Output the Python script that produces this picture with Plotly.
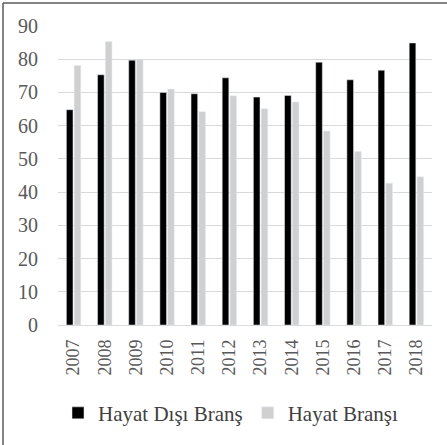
import plotly.graph_objects as go

years = ["2007", "2008", "2009", "2010", "2011", "2012", "2013", "2014", "2015", "2016", "2017", "2018"]
hayat_disi = [64.8, 75.3, 79.7, 70.0, 69.6, 74.4, 68.6, 69.1, 79.1, 73.8, 76.7, 84.9]
hayat = [78.1, 85.3, 80.0, 71.0, 64.2, 69.0, 65.1, 67.1, 58.4, 52.2, 42.7, 44.6]
y_ticks = [0, 10, 20, 30, 40, 50, 60, 70, 80, 90]

SERIF = "Liberation Serif"

fig = go.Figure()
fig.add_trace(go.Bar(x=years, y=hayat_disi, name="Hayat Dışı Branş", marker_color="#000000"))
fig.add_trace(go.Bar(x=years, y=hayat, name="Hayat Branşı", marker_color="#d0d0d0"))

W, H = 447, 445
l, r, t, b = 58, 15, 26, 120
pw, ph = W - l - r, H - t - b

fig.update_layout(
    width=W, height=H,
    margin=dict(l=l, r=r, t=t, b=b, pad=0, autoexpand=False),
    paper_bgcolor="white", plot_bgcolor="white",
    barmode="group", bargap=0.5, bargroupgap=0.15,
    font=dict(family=SERIF, color="#595959", size=18),
    showlegend=True,
    legend=dict(orientation="h", x=(58 - l) / pw, xanchor="left", y=-0.295, yanchor="middle",
                font=dict(family=SERIF, size=21, color="#404040"),
                traceorder="normal", bgcolor="rgba(0,0,0,0)"),
    xaxis=dict(tickangle=-90, showgrid=False, showline=False, ticks="",
               ticklabelstandoff=10, automargin=False,
               tickfont=dict(family=SERIF, size=18, color="#595959")),
    yaxis=dict(range=[0, 90], tickvals=y_ticks, showgrid=True, gridcolor="#d9d9d9",
               gridwidth=1, zeroline=True, zerolinecolor="#d9d9d9", zerolinewidth=1,
               showline=False, ticks="", ticklabelstandoff=19, automargin=False,
               tickfont=dict(family=SERIF, size=20, color="#595959")),
)

# outer frame (top and left edges visible in the reference)
x0 = (3 - l) / pw
y0 = 1 + (t - 3) / ph
fig.add_shape(type="line", xref="paper", yref="paper", x0=x0, x1=(W + 5 - l) / pw, y0=y0, y1=y0,
              line=dict(color="#5a5a5a", width=1.5))
fig.add_shape(type="line", xref="paper", yref="paper", x0=x0, x1=x0, y0=y0, y1=-(b + 5) / ph,
              line=dict(color="#5a5a5a", width=1.5))

fig.write_html("out.html", config={"displayModeBar": False},
               post_script="document.body.style.margin='0';")
